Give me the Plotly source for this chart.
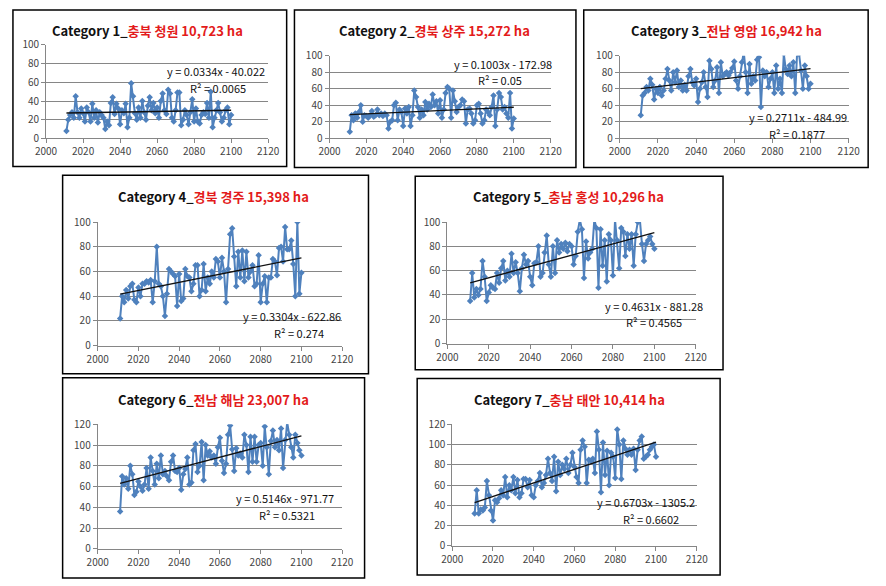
import plotly.graph_objects as go

W, H = 886, 586
years = list(range(2011, 2101))

cat_labels = ["Category 1_", "Category 2_", "Category 3_", "Category 4_",
              "Category 5_", "Category 6_", "Category 7_"]
region_labels = ["충북 청원 10,723 ha", "경북 상주 15,272 ha", "전남 영암 16,942 ha",
                 "경북 경주 15,398 ha", "충남 홍성 10,296 ha", "전남 해남 23,007 ha",
                 "충남 태안 10,414 ha"]
trend_slopes = [0.0334, 0.1003, 0.2711, 0.3304, 0.4631, 0.5146, 0.6703]
trend_intercepts = [-40.022, -172.98, -484.99, -622.86, -881.28, -971.77, -1305.2]
eq_labels = ["y = 0.0334x - 40.022", "y = 0.1003x - 172.98", "y = 0.2711x - 484.99",
             "y = 0.3304x - 622.86", "y = 0.4631x - 881.28", "y = 0.5146x - 971.77",
             "y = 0.6703x - 1305.2"]
r2_labels = ["R² = 0.0065", "R² = 0.05", "R² = 0.1877", "R² = 0.274",
             "R² = 0.4565", "R² = 0.5321", "R² = 0.6602"]
y_max = [100, 100, 100, 100, 100, 120, 120]

s1 = [8, 20, 25, 28, 22, 45, 28, 22, 32, 27, 18, 33, 28, 18, 37, 22, 30, 17, 28, 25,
      22, 10, 18, 14, 38, 44, 26, 37, 32, 15, 30, 27, 37, 12, 22, 59, 45, 27, 20, 33,
      22, 40, 28, 20, 35, 44, 30, 38, 27, 33, 22, 40, 48, 30, 26, 52, 48, 22, 18, 30,
      49, 49, 14, 20, 30, 25, 15, 28, 42, 18, 32, 18, 16, 25, 28, 26, 38, 22, 50, 12,
      22, 30, 38, 28, 18, 22, 30, 33, 15, 25]
s2 = [8, 28, 22, 30, 25, 32, 40, 20, 28, 27, 25, 28, 33, 26, 28, 35, 28, 30, 27, 30,
      28, 12, 20, 22, 40, 43, 22, 35, 32, 15, 36, 30, 38, 15, 28, 58, 50, 38, 25, 35,
      28, 44, 35, 42, 38, 53, 40, 45, 30, 46, 25, 35, 55, 62, 60, 25, 58, 45, 32, 38,
      40, 47, 45, 18, 35, 36, 30, 18, 22, 40, 42, 30, 18, 22, 35, 32, 28, 38, 52, 15,
      35, 55, 50, 35, 38, 30, 25, 55, 12, 24]
s3 = [28, 52, 55, 62, 58, 72, 65, 47, 60, 55, 62, 52, 58, 72, 84, 70, 58, 80, 68, 82,
      62, 70, 58, 65, 58, 75, 84, 68, 64, 72, 44, 60, 68, 80, 62, 50, 94, 84, 62, 70,
      86, 55, 92, 75, 78, 80, 76, 80, 85, 93, 70, 60, 75, 92, 105, 80, 55, 90, 66, 75,
      70, 95, 98, 38, 82, 75, 80, 62, 72, 80, 55, 88, 60, 72, 55, 102, 84, 78, 88, 75,
      92, 55, 105, 102, 82, 60, 88, 75, 60, 66]
s4 = [22, 40, 35, 45, 38, 48, 50, 37, 35, 47, 40, 50, 50, 52, 51, 53, 35, 52, 80, 50,
      48, 40, 24, 42, 62, 60, 58, 56, 32, 58, 36, 38, 62, 56, 55, 44, 50, 65, 65, 40,
      45, 66, 44, 55, 50, 60, 55, 70, 68, 55, 71, 60, 35, 62, 90, 95, 72, 48, 76, 55,
      77, 52, 76, 55, 60, 65, 48, 50, 73, 35, 50, 56, 35, 55, 55, 70, 68, 57, 79, 80,
      68, 96, 78, 78, 85, 66, 40, 100, 42, 59]
s5 = [35, 58, 38, 45, 40, 45, 68, 55, 35, 42, 48, 46, 45, 58, 50, 62, 68, 52, 60, 55,
      74, 58, 67, 58, 43, 62, 73, 65, 68, 55, 48, 66, 67, 80, 55, 58, 75, 89, 65, 55,
      80, 58, 85, 75, 82, 78, 83, 76, 82, 80, 65, 72, 92, 102, 94, 54, 84, 70, 75, 78,
      102, 95, 46, 94, 64, 85, 51, 90, 85, 56, 102, 85, 62, 95, 92, 72, 90, 78, 90, 64,
      90, 100, 102, 82, 68, 82, 85, 88, 82, 78]
s6 = [36, 70, 62, 68, 58, 80, 72, 52, 55, 65, 60, 56, 62, 78, 58, 88, 75, 62, 82, 68,
      90, 72, 75, 70, 66, 84, 90, 75, 74, 78, 57, 72, 77, 88, 62, 64, 95, 101, 74, 80,
      103, 66, 100, 90, 94, 88, 90, 82, 98, 107, 85, 73, 82, 110, 119, 96, 75, 97, 90, 92,
      88, 110, 100, 74, 108, 84, 108, 84, 100, 102, 80, 118, 98, 72, 104, 114, 98, 105, 95, 116,
      78, 105, 122, 110, 98, 88, 110, 102, 95, 90]
s7 = [32, 55, 32, 36, 35, 38, 64, 50, 35, 25, 45, 43, 47, 55, 50, 68, 48, 60, 55, 68,
      52, 65, 48, 52, 66, 66, 58, 65, 50, 48, 60, 64, 72, 58, 62, 70, 86, 72, 64, 88,
      54, 83, 70, 80, 76, 86, 72, 80, 92, 78, 68, 62, 95, 104, 98, 62, 85, 84, 86, 72,
      113, 95, 53, 102, 70, 94, 60, 92, 88, 67, 115, 100, 66, 104, 96, 90, 95, 90, 96, 75,
      95, 104, 108, 86, 88, 90, 95, 98, 100, 88]
series = [s1, s2, s3, s4, s5, s6, s7]

# layout geometry in pixels (plot area and frame boxes)
plot_boxes = [(36, 264, 37, 133), (327, 554, 48, 133), (625, 860, 48, 133),
              (89, 340, 219, 346), (448, 703, 219, 344), (89, 340, 427, 555),
              (453, 704, 427, 552)]
frames = [(2, 283, 1, 162), (291, 580, 1, 163), (588, 880, 1, 163),
          (53, 367, 171, 375), (415, 731, 172, 371), (53, 363, 379, 585),
          (417, 728, 380, 582)]
title_pos = [(140, 22), (435, 22), (735, 22), (208, 193), (572, 193), (208, 401), (573, 401)]
eq_pos = [(263, 64), (557, 57), (860, 111), (341, 316), (712, 305), (334, 503), (704, 507)]
r2_pos = [(213, 81), (502, 73), (807, 128), (296, 333), (660, 322), (283, 520), (657, 524)]


def px(x):
    return x / W


def py(y):
    return 1 - y / H


FONT = "Noto Sans CJK KR, Noto Sans, sans-serif"
fig = go.Figure()
layout = dict(width=W, height=H, margin=dict(l=0, r=0, t=0, b=0),
              paper_bgcolor="white", plot_bgcolor="white", showlegend=False,
              font=dict(family=FONT, size=10, color="#222"))
annotations = []
shapes = []

for i in range(7):
    n = "" if i == 0 else str(i + 1)
    xa, ya = "x" + n, "y" + n
    x0, x1, y0, y1 = plot_boxes[i]
    fig.add_trace(go.Scatter(x=years, y=series[i], mode="lines+markers", xaxis=xa, yaxis=ya,
                             line=dict(color="#4F81BD", width=2),
                             marker=dict(symbol="diamond", size=5, color="#4F81BD")))
    tx = [years[0], years[-1]]
    ty = [trend_slopes[i] * t + trend_intercepts[i] for t in tx]
    fig.add_trace(go.Scatter(x=tx, y=ty, mode="lines", xaxis=xa, yaxis=ya,
                             line=dict(color="#111", width=1.3)))
    layout["xaxis" + n] = dict(domain=[px(x0), px(x1)], anchor=ya, range=[2000, 2120],
                               dtick=20, tick0=2000, showgrid=False, zeroline=False,
                               showline=True, linecolor="#868686", linewidth=1,
                               ticks="outside", ticklen=4, tickcolor="#868686",
                               tickfont=dict(size=10, color="#444"))
    layout["yaxis" + n] = dict(domain=[py(y1), py(y0)], anchor=xa, range=[0, y_max[i]],
                               dtick=20, showgrid=True, gridcolor="#868686", gridwidth=1,
                               zeroline=False, showline=True, linecolor="#868686",
                               ticks="outside", ticklen=4, tickcolor="#868686",
                               tickfont=dict(size=10, color="#444"))
    fx0, fx1, fy0, fy1 = frames[i]
    shapes.append(dict(type="rect", xref="paper", yref="paper", x0=px(fx0), x1=px(fx1),
                       y0=py(fy1), y1=py(fy0), line=dict(color="black", width=1.5)))
    annotations.append(dict(xref="paper", yref="paper", x=px(title_pos[i][0]),
                            y=py(title_pos[i][1]), xanchor="center", yanchor="middle",
                            showarrow=False, font=dict(size=13, color="#111", family=FONT),
                            text="<b>" + cat_labels[i] + "<span style='color:#E31B1B'>"
                                 + region_labels[i] + "</span></b>"))
    annotations.append(dict(xref="paper", yref="paper", x=px(eq_pos[i][0]), y=py(eq_pos[i][1]),
                            xanchor="right", yanchor="middle", showarrow=False,
                            font=dict(size=11, color="#111"), text=eq_labels[i]))
    annotations.append(dict(xref="paper", yref="paper", x=px(r2_pos[i][0]), y=py(r2_pos[i][1]),
                            xanchor="center", yanchor="middle", showarrow=False,
                            font=dict(size=11, color="#111"), text=r2_labels[i]))

layout["annotations"] = annotations
layout["shapes"] = shapes
fig.update_layout(**layout)
fig.write_html("out.html", config={"displayModeBar": False},
               post_script="document.body.style.margin='0';document.body.style.overflow='hidden';")
